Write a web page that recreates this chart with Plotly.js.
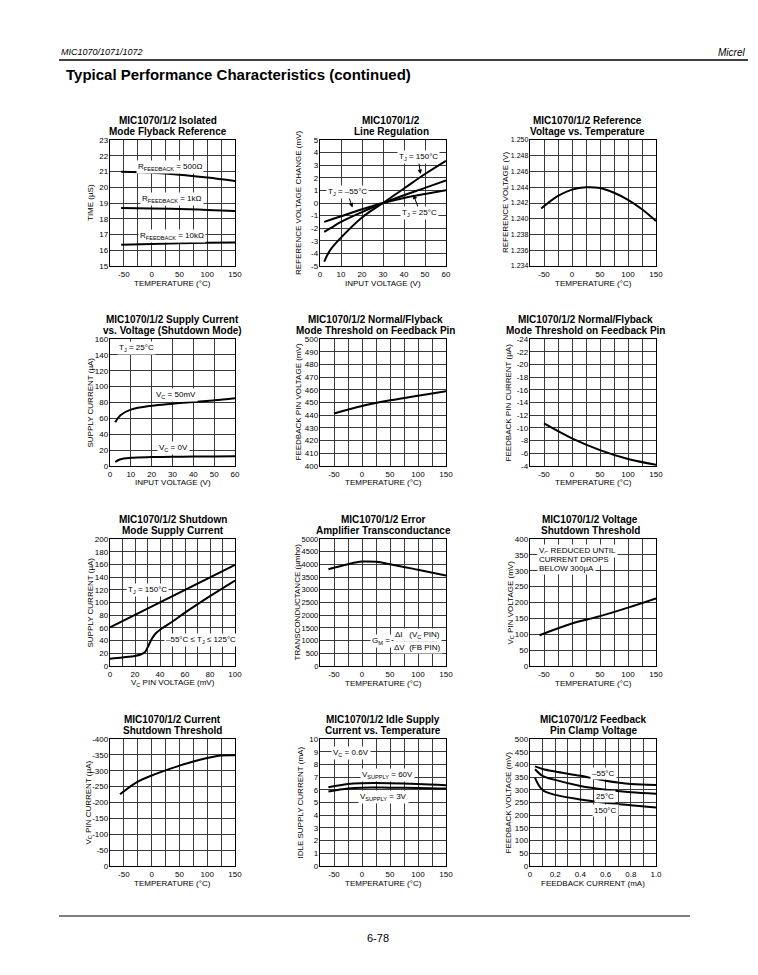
<!DOCTYPE html>
<html><head><meta charset="utf-8">
<script src="https://cdn.plot.ly/plotly-3.0.1.min.js"></script>
<style>html,body{margin:0;padding:0;background:#fff}#c{width:758px;height:975px}</style>
</head><body><div id="c"></div>
<script>
// ---------- DATA ----------
// 1 Isolated Mode Flyback Reference
const flyT = [-55, 0, 50, 100, 150];
const fly500 = [20.98, 20.92, 20.8, 20.62, 20.4];
const fly1k = [18.69, 18.65, 18.62, 18.56, 18.5];
const fly10k = [16.35, 16.4, 16.45, 16.48, 16.5];
// 2 Line Regulation
const lrVin = [2, 5, 10, 20, 30, 40, 50, 60];
const lr150 = [-4.65, -3.7, -2.75, -1.15, 0, 1.15, 2.3, 3.35];
const lr25 = [-2.3, -2.0, -1.5, -0.72, 0, 0.62, 1.2, 1.8];
const lrM55 = [-1.5, -1.33, -1.05, -0.5, 0, 0.4, 0.72, 1.02];
// 3 Reference Voltage vs Temperature
const refT = [-55, -25, 0, 25, 50, 75, 100, 125, 150];
const refV = [1.2413, 1.2429, 1.2437, 1.2440, 1.2439, 1.2433, 1.2424, 1.2412, 1.2397];
// 4 Supply Current vs Voltage (Shutdown)
const scVin = [2.5, 5, 10, 20, 30, 40, 50, 60];
const sc50mV = [55, 64, 71, 76, 78.5, 80.6, 82.7, 85.2];
const sc0V = [5, 8.5, 10.3, 11.2, 11.6, 11.9, 12.1, 12.3];
// 5 Threshold feedback pin voltage
const thT = [-50, 0, 50, 100, 150];
const thV = [441.4, 447.3, 451.7, 455.4, 458.9];
// 6 Threshold feedback pin current
const thI = [-10.7, -8.35, -6.5, -5.1, -4.2];
// 7 Shutdown mode supply current
const sdVc150 = [0, 100];
const sdI150 = [60.7, 159.3];
const sdVc = [0, 10, 20, 25, 28, 30, 33, 36, 40, 50, 60, 80, 100];
const sdI = [11.6, 13.5, 15.8, 18.5, 22, 29, 41, 50, 57, 70, 84, 110, 134.6];
// 8 Error amp transconductance
const gmT = [-60, -25, 0, 25, 50, 100, 150];
const gmV = [3810, 4010, 4110, 4100, 4010, 3790, 3560];
// 9 Voltage shutdown threshold
const vsT = [-58, 0, 50, 100, 150];
const vsV = [97, 134, 157, 184, 213];
// 10 Current shutdown threshold
const csT = [-57, -25, 0, 25, 50, 75, 100, 125, 150];
const csI = [-226, -266, -285, -301, -316, -329, -340, -348, -349];
// 11 Idle supply current
const idT = [-60, -25, 0, 50, 100, 150];
const id60 = [6.2, 6.46, 6.52, 6.52, 6.46, 6.36];
const id3 = [5.86, 6.1, 6.17, 6.17, 6.15, 6.1];
// 12 Feedback pin clamp voltage
const fcI = [0.04, 0.1, 0.2, 0.4, 0.6, 0.8, 1.0];
const fcM55 = [392, 382, 372, 355, 336, 323, 319];
const fc25 = [381, 355, 339, 315, 300, 290, 284];
const fc150 = [347, 299, 280, 262, 249, 239, 230];

// ---------- TICKS ----------
const tempVals = [-50, 0, 50, 100, 150];
const tempText = ['-50', '0', '50', '100', '150'];
const tempGrid = [-75, -50, -25, 0, 25, 50, 75, 100, 125, 150];
const vin60Vals = [0, 10, 20, 30, 40, 50, 60];
const vin60Text = ['0', '10', '20', '30', '40', '50', '60'];
const mv100Vals = [0, 20, 40, 60, 80, 100];
const mv100Text = ['0', '20', '40', '60', '80', '100'];
const mv100Grid = [0, 10, 20, 30, 40, 50, 60, 70, 80, 90, 100];
const ma1Vals = [0, 0.2, 0.4, 0.6, 0.8, 1.0];
const ma1Text = ['0', '0.2', '0.4', '0.6', '0.8', '1.0'];
const ma1Grid = [0, 0.1, 0.2, 0.3, 0.4, 0.5, 0.6, 0.7, 0.8, 0.9, 1.0];
const y1Vals = [15, 16, 17, 18, 19, 20, 21, 22, 23];
const y1Text = ['15', '16', '17', '18', '19', '20', '21', '22', '23'];
const y2Vals = [-5, -4, -3, -2, -1, 0, 1, 2, 3, 4, 5];
const y2Text = ['-5', '-4', '-3', '-2', '-1', '0', '1', '2', '3', '4', '5'];
const y3Vals = [1.234, 1.236, 1.238, 1.240, 1.242, 1.244, 1.246, 1.248, 1.250];
const y3Text = ['1.234', '1.236', '1.238', '1.240', '1.242', '1.244', '1.246', '1.248', '1.250'];
const y4Vals = [0, 20, 40, 60, 80, 100, 120, 140, 160];
const y4Text = ['0', '20', '40', '60', '80', '100', '120', '140', '160'];
const y5Vals = [400, 410, 420, 430, 440, 450, 460, 470, 480, 490, 500];
const y5Text = ['400', '410', '420', '430', '440', '450', '460', '470', '480', '490', '500'];
const y6Vals = [-24, -22, -20, -18, -16, -14, -12, -10, -8, -6, -4];
const y6Text = ['-24', '-22', '-20', '-18', '-16', '-14', '-12', '-10', '-8', '-6', '-4'];
const y7Vals = [0, 20, 40, 60, 80, 100, 120, 140, 160, 180, 200];
const y7Text = ['0', '20', '40', '60', '80', '100', '120', '140', '160', '180', '200'];
const y8Vals = [0, 500, 1000, 1500, 2000, 2500, 3000, 3500, 4000, 4500, 5000];
const y8Text = ['0', '500', '1000', '1500', '2000', '2500', '3000', '3500', '4000', '4500', '5000'];
const y9Vals = [0, 50, 100, 150, 200, 250, 300, 350, 400];
const y9Text = ['0', '50', '100', '150', '200', '250', '300', '350', '400'];
const y10Vals = [-400, -350, -300, -250, -200, -150, -100, -50, 0];
const y10Text = ['-400', '-350', '-300', '-250', '-200', '-150', '-100', '-50', '0'];
const y11Vals = [0, 1, 2, 3, 4, 5, 6, 7, 8, 9, 10];
const y11Text = ['0', '1', '2', '3', '4', '5', '6', '7', '8', '9', '10'];
const y12Vals = [0, 50, 100, 150, 200, 250, 300, 350, 400, 450, 500];
const y12Text = ['0', '50', '100', '150', '200', '250', '300', '350', '400', '450', '500'];

// ---------- LAYOUT ----------
const W = 758, H = 975;
const FONT = 'Liberation Sans, Arial, Helvetica, sans-serif';
const px = x => x / W, py = y => 1 - y / H;
const cols = [[110, 235], [320, 446], [530, 656]];
const rows = [[140, 266], [339, 466], [539, 666], [739, 866]];

const charts = [
  {title: ['MIC1070/1/2 Isolated', 'Mode Flyback Reference'], tx: 168, xr: [-75, 150], xv: tempVals, xt: tempText, xg: tempGrid, yr: [15, 23], yv: y1Vals, yt: y1Text, xl: 'TEMPERATURE (°C)', yl: 'TIME (µS)', ylx: 90,
   series: [[flyT, fly500], [flyT, fly1k], [flyT, fly10k]]},
  {title: ['MIC1070/1/2', 'Line Regulation'], tx: 391, xr: [0, 60], xv: vin60Vals, xt: vin60Text, yr: [-5, 5], yv: y2Vals, yt: y2Text, xl: 'INPUT VOLTAGE (V)', yl: 'REFERENCE VOLTAGE CHANGE (mV)', ylx: 298,
   series: [[lrVin, lr150], [lrVin, lr25], [lrVin, lrM55]]},
  {title: ['MIC1070/1/2 Reference', 'Voltage vs. Temperature'], tx: 587, xr: [-75, 150], xv: tempVals, xt: tempText, xg: tempGrid, yr: [1.234, 1.250], yv: y3Vals, yt: y3Text, yfs: 7, xl: 'TEMPERATURE (°C)', yl: 'REFERENCE VOLTAGE (V)', ylx: 505,
   series: [[refT, refV]]},
  {title: ['MIC1070/1/2 Supply Current', 'vs. Voltage (Shutdown Mode)'], tx: 172, xr: [0, 60], xv: vin60Vals, xt: vin60Text, yr: [0, 160], yv: y4Vals, yt: y4Text, xl: 'INPUT VOLTAGE (V)', yl: 'SUPPLY CURRENT (µA)', ylx: 90,
   series: [[scVin, sc50mV], [scVin, sc0V]]},
  {title: ['MIC1070/1/2 Normal/Flyback', 'Mode Threshold on Feedback Pin'], tx: 375, xr: [-75, 150], xv: tempVals, xt: tempText, xg: tempGrid, yr: [400, 500], yv: y5Vals, yt: y5Text, xl: 'TEMPERATURE (°C)', yl: 'FEEDBACK PIN VOLTAGE (mV)', ylx: 298,
   series: [[thT, thV]]},
  {title: ['MIC1070/1/2 Normal/Flyback', 'Mode Threshold on Feedback Pin'], tx: 585, xr: [-75, 150], xv: tempVals, xt: tempText, xg: tempGrid, yr: [-4, -24], yv: y6Vals, yt: y6Text, xl: 'TEMPERATURE (°C)', yl: 'FEEDBACK PIN CURRENT (µA)', ylx: 508,
   series: [[thT, thI]]},
  {title: ['MIC1070/1/2 Shutdown', 'Mode Supply Current'], tx: 173, xr: [0, 100], xv: mv100Vals, xt: mv100Text, xg: mv100Grid, yr: [0, 200], yv: y7Vals, yt: y7Text, xl: 'V<sub>C</sub> PIN VOLTAGE (mV)', yl: 'SUPPLY CURRENT (µA)', ylx: 90,
   series: [[sdVc150, sdI150], [sdVc, sdI]]},
  {title: ['MIC1070/1/2 Error', 'Amplifier Transconductance'], tx: 383, xr: [-75, 150], xv: tempVals, xt: tempText, xg: tempGrid, yr: [0, 5000], yv: y8Vals, yt: y8Text, yfs: 7.5, xl: 'TEMPERATURE (°C)', yl: 'TRANSCONDUCTANCE (µmho)', ylx: 297,
   series: [[gmT, gmV]]},
  {title: ['MIC1070/1/2 Voltage', 'Shutdown Threshold'], tx: 590, xr: [-75, 150], xv: tempVals, xt: tempText, xg: tempGrid, yr: [0, 400], yv: y9Vals, yt: y9Text, xl: 'TEMPERATURE (°C)', yl: 'V<sub>C</sub> PIN VOLTAGE (mV)', ylx: 510,
   series: [[vsT, vsV]]},
  {title: ['MIC1070/1/2 Current', 'Shutdown Threshold'], tx: 172, xr: [-75, 150], xv: tempVals, xt: tempText, xg: tempGrid, yr: [0, -400], yv: y10Vals, yt: y10Text, xl: 'TEMPERATURE (°C)', yl: 'V<sub>C</sub> PIN CURRENT (µA)', ylx: 88,
   series: [[csT, csI]]},
  {title: ['MIC1070/1/2 Idle Supply', 'Current vs. Temperature'], tx: 383, xr: [-75, 150], xv: tempVals, xt: tempText, xg: tempGrid, yr: [0, 10], yv: y11Vals, yt: y11Text, xl: 'TEMPERATURE (°C)', yl: 'IDLE SUPPLY CURRENT (mA)', ylx: 300,
   series: [[idT, id60], [idT, id3]]},
  {title: ['MIC1070/1/2 Feedback', 'Pin Clamp Voltage'], tx: 593, xr: [0, 1.0], xv: ma1Vals, xt: ma1Text, xg: ma1Grid, yr: [0, 500], yv: y12Vals, yt: y12Text, xl: 'FEEDBACK CURRENT (mA)', yl: 'FEEDBACK VOLTAGE (mV)', ylx: 508,
   series: [[fcI, fcM55], [fcI, fc25], [fcI, fc150]]}
];

const layout = {
  width: W, height: H, margin: {l: 0, r: 0, t: 0, b: 0},
  paper_bgcolor: '#fff', plot_bgcolor: '#fff', showlegend: false,
  font: {family: FONT, color: '#000', size: 8},
  annotations: [], shapes: []
};
const traces = [];
const ann = (text, x, y, o) => layout.annotations.push(Object.assign({text, xref: 'paper', yref: 'paper', x: px(x), y: py(y),
  xanchor: 'center', yanchor: 'middle', showarrow: false, font: {family: FONT, size: 8, color: '#000'}}, o || {}));

const GRID = '#3a3a3a';
charts.forEach((c, i) => {
  const col = cols[i % 3], row = rows[Math.floor(i / 3)];
  const s = i === 0 ? '' : String(i + 1);
  const common = {showgrid: true, gridcolor: GRID, gridwidth: 1, showline: true, mirror: true, linecolor: '#000', linewidth: 1.2,
    zeroline: false, ticks: '', fixedrange: true, tickmode: 'array'};
  const xa = Object.assign({}, common, {domain: [px(col[0]), px(col[1])], anchor: 'y' + s, range: c.xr, tickvals: c.xv, ticktext: c.xt,
    tickfont: {family: FONT, size: 8, color: '#000'}});
  if (c.xg) xa.minor = {tickmode: 'array', tickvals: c.xg, showgrid: true, gridcolor: GRID, gridwidth: 1, ticks: ''};
  layout['xaxis' + s] = xa;
  layout['yaxis' + s] = Object.assign({}, common, {domain: [py(row[1]), py(row[0])], anchor: 'x' + s, range: c.yr, tickvals: c.yv, ticktext: c.yt,
    tickfont: {family: FONT, size: c.yfs || 8, color: '#000'}, ticklabelstandoff: -1});
  c.series.forEach(sr => traces.push({x: sr[0], y: sr[1], xaxis: 'x' + s, yaxis: 'y' + s, mode: 'lines', hoverinfo: 'skip',
    line: {color: '#000', width: 2, shape: 'spline', smoothing: 1}}));
  ann('<b>' + c.title[0] + '</b>', c.tx, row[0] - 20, {font: {family: FONT, size: 10, color: '#000'}});
  ann('<b>' + c.title[1] + '</b>', c.tx, row[0] - 9, {font: {family: FONT, size: 10, color: '#000'}});
  ann(c.xl, (col[0] + col[1]) / 2, row[1] + 17);
  ann(c.yl, c.ylx, (row[0] + row[1]) / 2, {textangle: -90});
});

// in-plot labels
const wb = {bgcolor: '#fff', borderpad: 1};
ann('R<sub>FEEDBACK</sub> = 500Ω', 170, 167, wb);
ann('R<sub>FEEDBACK</sub> = 1kΩ', 172, 199, wb);
ann('R<sub>FEEDBACK</sub> = 10kΩ', 172, 236, wb);
const arr = (text, tx, ty, hx, hy) => ann(text, hx, hy, Object.assign({showarrow: true, arrowhead: 2, arrowsize: 0.9, arrowwidth: 1, arrowcolor: '#000', ax: tx - hx, ay: ty - hy}, wb));
arr('T<sub>J</sub> = 150°C', 418, 157, 420.5, 174);
arr('T<sub>J</sub> = –55°C', 347, 192, 352.5, 207.5);
arr('T<sub>J</sub> = 25°C', 420, 213, 413.5, 194.5);
ann('T<sub>J</sub> = 25°C', 117, 348, Object.assign({xanchor: 'left'}, wb));
ann('V<sub>C</sub> = 50mV', 176, 395, wb);
ann('V<sub>C</sub> = 0V', 173, 448, wb);
ann('T<sub>J</sub> = 150°C', 147, 590, wb);
ann('–55°C ≤ T<sub>J</sub> ≤ 125°C', 201, 640, wb);
ann('G<sub>M</sub> =', 381, 641, wb);
ann('ΔI   (V<sub>C</sub> PIN)', 417, 635, wb);
ann('ΔV  (FB PIN)', 417, 647.5, wb);
layout.shapes.push({type: 'line', xref: 'paper', yref: 'paper', x0: px(396), x1: px(437), y0: py(641), y1: py(641), line: {color: '#000', width: 0.8}});
ann('V<sub>C</sub> REDUCED UNTIL', 537, 551, Object.assign({xanchor: 'left'}, wb));
ann('CURRENT DROPS', 537, 559.5, Object.assign({xanchor: 'left'}, wb));
ann('BELOW 300µA', 537, 568, Object.assign({xanchor: 'left'}, wb));
ann('V<sub>C</sub> = 0.6V', 331, 753, Object.assign({xanchor: 'left'}, wb));
ann('V<sub>SUPPLY</sub> = 60V', 387, 775, wb);
ann('V<sub>SUPPLY</sub> = 3V', 383, 797, wb);
ann('–55°C', 603, 773, wb);
ann('25°C', 605, 796.5, wb);
ann('150°C', 605, 810, wb);

// page header / footer
ann('<i>MIC1070/1071/1072</i>', 59, 52, {xanchor: 'left', font: {family: FONT, size: 9, color: '#000'}});
ann('<i>Micrel</i>', 747, 52, {xanchor: 'right', font: {family: FONT, size: 10, color: '#000'}});
ann('<b>Typical Performance Characteristics (continued)</b>', 64, 75, {xanchor: 'left', font: {family: FONT, size: 15, color: '#000'}});
ann('6-78', 378, 938, {font: {family: FONT, size: 11, color: '#000'}});
layout.shapes.push({type: 'line', xref: 'paper', yref: 'paper', x0: px(59), x1: px(748), y0: py(60), y1: py(60), line: {color: '#000', width: 1.5}});
layout.shapes.push({type: 'line', xref: 'paper', yref: 'paper', x0: px(59), x1: px(690), y0: py(916), y1: py(916), line: {color: '#000', width: 1.2}});

Plotly.newPlot('c', traces, layout, {staticPlot: true, displayModeBar: false});
</script></body></html>
